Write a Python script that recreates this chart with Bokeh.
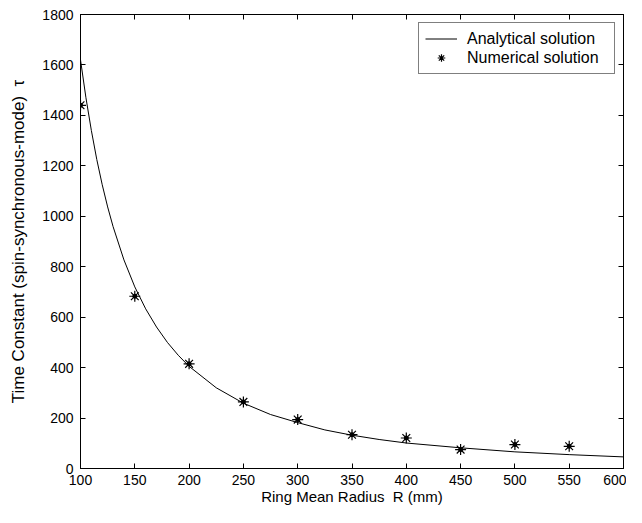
from bokeh.plotting import figure
from bokeh.models import LinearAxis, SingleIntervalTicker, Range1d, Legend, LegendItem
from bokeh.embed import file_html
from bokeh.resources import INLINE

# Analytical solution
analytic_r = [100, 105, 110, 115, 120, 125, 130, 140, 150, 160, 170, 180, 190, 200,
              225, 250, 275, 300, 325, 350, 375, 400, 450, 500, 550, 600]
analytic_tau = [1620, 1470, 1340, 1225, 1125, 1037, 959, 827, 720, 633, 561, 500, 449, 405,
                320, 259, 214, 182, 153, 132, 115, 101, 82, 66, 55, 46]

# Numerical solution (star markers)
numeric_r = [100, 150, 200, 250, 300, 350, 400, 450, 500, 550]
numeric_tau = [1440, 683, 415, 264, 194, 134, 121, 75, 95, 88]

x_ticks_step = 50
y_ticks_step = 200

FONT = "Liberation Sans"

p = figure(width=626, height=507, output_backend="svg", toolbar_location=None,
           x_range=Range1d(100, 600), y_range=Range1d(0, 1800),
           min_border_left=80, min_border_right=3, min_border_top=14, min_border_bottom=38,
           background_fill_color="white", border_fill_color="white")
p.xgrid.visible = False
p.ygrid.visible = False
p.outline_line_color = "black"
p.outline_line_width = 1

p.xaxis.ticker = SingleIntervalTicker(interval=x_ticks_step)
p.yaxis.ticker = SingleIntervalTicker(interval=y_ticks_step)

for ax in (p.xaxis[0], p.yaxis[0]):
    ax.major_tick_in = 5
    ax.major_tick_out = 0
    ax.minor_tick_in = 0
    ax.minor_tick_out = 0
    ax.axis_line_color = "black"
    ax.major_tick_line_color = "black"
    ax.major_label_text_font = FONT
    ax.major_label_text_font_size = "14px"
    ax.major_label_text_color = "black"
    ax.axis_label_text_font = FONT
    ax.axis_label_text_font_style = "normal"
    ax.axis_label_text_color = "black"

p.xaxis.axis_label_text_font_size = "15px"
p.yaxis.axis_label_text_font_size = "17px"
p.xaxis.axis_label = "Ring Mean Radius\u00a0 R (mm)"
p.yaxis.axis_label = "Time Constant (spin-synchronous-mode)\u00a0 \u03c4"
p.xaxis.major_label_standoff = 6
p.yaxis.major_label_standoff = 7
p.xaxis.axis_label_standoff = 0
p.yaxis.axis_label_standoff = 11

top = LinearAxis(ticker=SingleIntervalTicker(interval=x_ticks_step),
                 major_label_text_font_size="1px", major_label_text_color=None,
                 major_label_standoff=0,
                 major_tick_in=5, major_tick_out=0,
                 minor_tick_in=0, minor_tick_out=0, axis_line_color="black")
right = LinearAxis(ticker=SingleIntervalTicker(interval=y_ticks_step),
                   major_label_text_font_size="1px", major_label_text_color=None,
                   major_label_standoff=0,
                   major_tick_in=5, major_tick_out=0,
                   minor_tick_in=0, minor_tick_out=0, axis_line_color="black")
p.add_layout(top, "above")
p.add_layout(right, "right")

line = p.line(analytic_r, analytic_tau, line_color="black", line_width=1)
stars = p.scatter(numeric_r, numeric_tau, marker="asterisk", size=11,
                  line_color="black", line_width=1.2)
dots = p.scatter(numeric_r, numeric_tau, marker="circle", size=4,
                 fill_color="black", line_color="black")

legend = Legend(items=[LegendItem(label="Analytical solution", renderers=[line]),
                       LegendItem(label="Numerical solution", renderers=[stars])],
                location="top_right", margin=8, padding=6, spacing=0,
                glyph_width=32, glyph_height=19, label_height=19, label_width=141,
                label_standoff=10,
                label_text_font=FONT, label_text_font_size="16px",
                label_text_color="black", border_line_color="black",
                border_line_width=1, background_fill_alpha=1)
p.add_layout(legend, "center")

open("out.html", "w").write(file_html(p, INLINE))
